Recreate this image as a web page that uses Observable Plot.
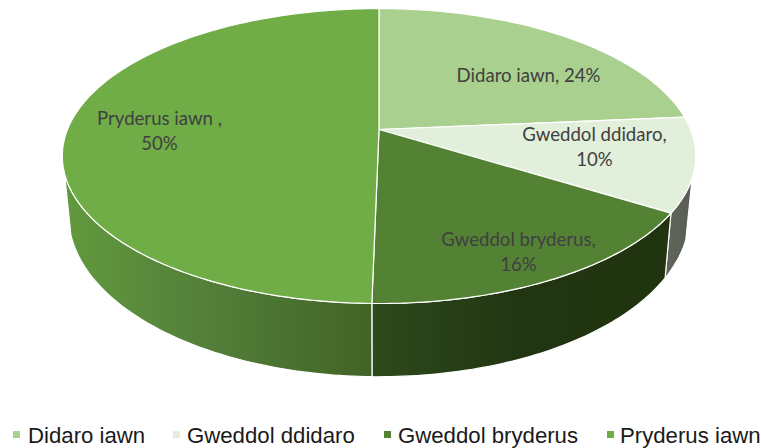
<!DOCTYPE html>
<html><head><meta charset="utf-8">
<script src="https://cdn.jsdelivr.net/npm/d3@7"></script>
<script src="https://cdn.jsdelivr.net/npm/@observablehq/plot@0.6"></script>
<style>
html,body{margin:0;padding:0;background:#fff;}
#chart{width:761px;height:448px;position:relative;overflow:hidden;}
#chart svg{display:block;}
#legend{position:absolute;left:0;top:418px;width:761px;height:30px;font:22.2px "Liberation Sans",Arial,sans-serif;color:#1a1a1a;}
#legend span{position:absolute;top:5px;white-space:nowrap;}
#legend i{position:absolute;top:13px;width:7px;height:7px;}
</style></head>
<body><div id="chart"></div>
<script>
const categories = ["Didaro iawn","Gweddol ddidaro","Gweddol bryderus","Pryderus iawn"];
const values = [23.6,10.3,16.4,49.7];
const colors = ["#a9d08e","#e2efda","#548235","#70ad47"];
const labelLines = [["Didaro iawn, 24%"],["Gweddol ddidaro,","10%"],["Gweddol bryderus,","16%"],["Pryderus iawn ,","50%"]];

// layout
const W = 761, H = 418;
const cx = 378.5, cy = 129, a = 311.5, b = 142.7, k = 0.18;
const cyLow = 186, bLow = 156, aLow = a * 0.98;
const horizonR = 108.7, horizonL = 253;
const labelAt = [[528,76],[594,135],[518,240],[159,119]];
const legendX = [[13,28],[173,187],[384,398],[607,620]];

const rad = d => d * Math.PI / 180;
const top3d = d => { const X=Math.sin(rad(d)),Y=Math.cos(rad(d)),w=1+k*Y; return [cx+a*X/w, cy-b*Y/w]; };
const low3d = d => { const X=Math.sin(rad(d)),Y=Math.cos(rad(d)),w=1+k*Y; return [cx+aLow*X/w, cyLow-bLow*Y/w]; };
const arc = (fn,d0,d1) => { const n=Math.max(2,Math.ceil(Math.abs(d1-d0))); return d3.range(n+1).map(i=>fn(d0+(d1-d0)*i/n)); };

const total = d3.sum(values);
const cum = d3.cumsum(values).map(v=>v/total*360);
const start = i => i ? cum[i-1] : 0;

const topRows = categories.flatMap((name,i)=>
  [[cx,cy],...arc(top3d,start(i),cum[i])].map(([x,y])=>({name,x,y})));

const sideShape = (d0,d1) => [...arc(top3d,d0,d1),...arc(low3d,d1,d0)].map(([x,y])=>({x,y}));
const sideGrey = sideShape(horizonR,cum[1]);
const sideDark = sideShape(cum[1],cum[2]);
const sideLeft = sideShape(cum[2],horizonL);

const labelRows = labelLines.flatMap((lines,i)=>lines.map((t,j)=>({t,x:labelAt[i][0],y:labelAt[i][1]+j*25})));

const defs = () => {
  const d = d3.create("svg:defs");
  const grad = (id,stops) => {
    const g = d.append("linearGradient").attr("id",id).attr("x1",0).attr("x2",1).attr("y1",0).attr("y2",0);
    stops.forEach(([o,c])=>g.append("stop").attr("offset",o).attr("stop-color",c));
  };
  grad("gLeft",[[0,"#62993d"],[0.45,"#53803a"],[1,"#426325"]]);
  grad("gDark",[[0,"#2e4a1c"],[0.5,"#213512"],[1,"#20340f"]]);
  grad("gGrey",[[0,"#5f655b"],[1,"#585e54"]]);
  return d.node();
};
const side = (rows,id) => Plot.line(rows,{x:"x",y:"y",curve:"linear-closed",fill:`url(#${id})`,stroke:"white",strokeWidth:1.2,strokeLinejoin:"round"});

const plot = Plot.plot({
  width:W,height:H,margin:0,
  x:{domain:[0,W],range:[0,W],axis:null},
  y:{domain:[0,H],range:[0,H],axis:null},
  color:{domain:categories,range:colors},
  marks:[
    defs,
    side(sideGrey,"gGrey"),
    side(sideDark,"gDark"),
    side(sideLeft,"gLeft"),
    Plot.line(topRows,{x:"x",y:"y",z:"name",fill:"name",curve:"linear-closed",stroke:"white",strokeWidth:1.2}),
    Plot.text(labelRows,{x:"x",y:"y",text:"t",fontFamily:"Lato",fontSize:18.6,fill:"#404040",textAnchor:"middle"})
  ]
});
const chart = document.getElementById("chart");
chart.appendChild(plot);
const legend = d3.select(chart).append("div").attr("id","legend");
categories.forEach((c,i)=>{
  legend.append("i").style("left",legendX[i][0]+"px").style("background",colors[i]);
  legend.append("span").style("left",legendX[i][1]+"px").text(c);
});
</script></body></html>
